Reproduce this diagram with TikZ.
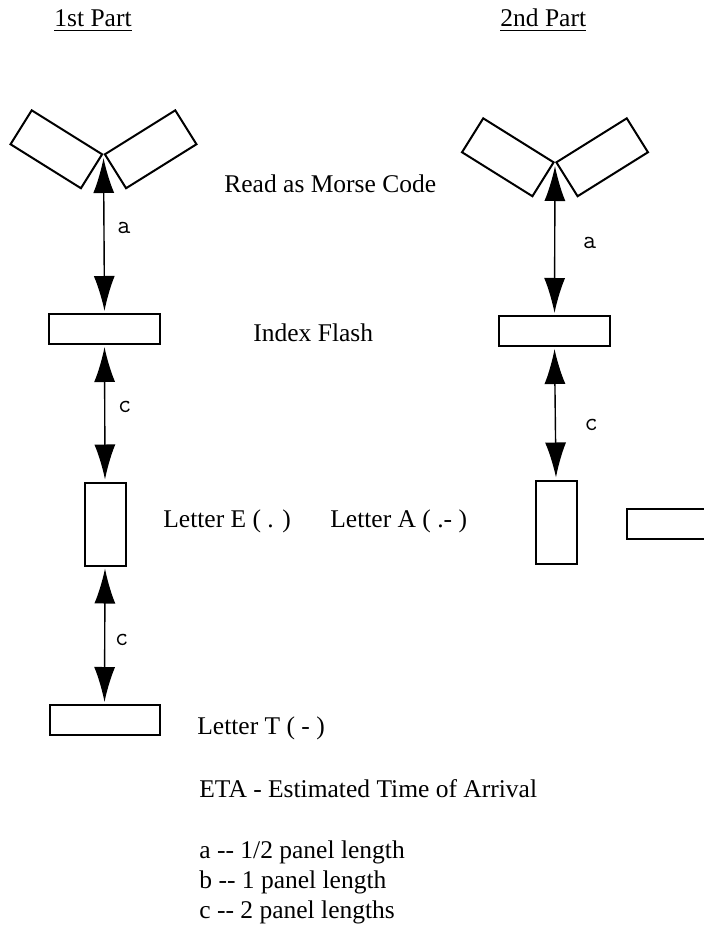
\documentclass[tikz,border=0pt]{standalone}
\usepackage{fontspec}
\setmainfont{Liberation Serif}
\usetikzlibrary{arrows.meta}
\begin{document}
\begin{tikzpicture}[x=0.5pt,y=-0.5pt,
  panel/.style={draw,line width=1pt,minimum width=41.5pt,minimum height=20pt,inner sep=0pt},
  flashbox/.style={draw,line width=1pt,minimum width=55.5pt,minimum height=15pt,inner sep=0pt},
  dotbox/.style={draw,line width=1pt,minimum width=20.5pt,minimum height=41.5pt,inner sep=0pt},
  dashbox/.style={draw,line width=1pt,minimum width=55pt,minimum height=15pt,inner sep=0pt},
  gap/.style={<->,>={Latex[length=17.5pt,width=10.5pt]},line width=0.7pt,shorten >=1pt,shorten <=1pt},
  dist/.style={midway,font=\ttfamily\fontsize{12.75}{15}\selectfont,inner sep=0pt},
  txt/.style={anchor=base west,inner sep=0pt,font=\fontsize{12.75}{15}\selectfont}]
  \useasboundingbox (0,0) rectangle (704,925);
  \clip (0,0) rectangle (704,925);
  \node[txt] (parta) at (54,27) {\underline{1st Part}};
  \node[txt] (partb) at (500,27) {\underline{2nd Part}};
  \coordinate (apexa) at (103.5,154);
  \node[panel,rotate=-32,anchor=north east] (pla) at (apexa) {};
  \node[panel,rotate=32,anchor=north west] (pra) at (apexa) {};
  \node[flashbox] (idxa) at (104.5,329) {};
  \node[dotbox] (ltre) at (105,524) {};
  \node[dashbox] (ltrt) at (104.5,720) {};
  \coordinate (apexb) at (555,162);
  \node[panel,rotate=-32,anchor=north east] (plb) at (apexb) {};
  \node[panel,rotate=32,anchor=north west] (prb) at (apexb) {};
  \node[flashbox] (idxb) at (554.5,331) {};
  \node[dotbox] (ltra) at (556,522) {};
  \node[dashbox,anchor=west] (ltrad) at (626,524) {};
  \draw[gap,shorten <=2pt] (apexa) -- (idxa.north) node[dist,xshift=10pt,yshift=3pt] {a};
  \draw[gap] (idxa.south) -- (ltre.north) node[dist,xshift=10pt,yshift=3pt] {c};
  \draw[gap] (ltre.south) -- (ltrt.north) node[dist,xshift=8.5pt,yshift=-2.5pt] {c};
  \draw[gap,shorten <=2pt] (apexb) -- (idxb.north) node[dist,xshift=17.5pt,yshift=-2pt] {a};
  \draw[gap] (idxb.south) -- (ltra.north) node[dist,xshift=18pt,yshift=-6pt] {c};
  \node[txt] (morse) at (224,192) {Read as Morse Code};
  \node[txt] (flash) at (253,341) {Index Flash};
  \node[txt] (lbe) at (163,527) {Letter E ( . )};
  \node[txt] (lba) at (330,527) {Letter A ( .- )};
  \node[txt] (lbt) at (197,734) {Letter T ( - )};
  \node[txt] (eta) at (199,797) {ETA - Estimated Time of Arrival};
  \node[txt] (keya) at (199,858) {a -{}- 1/2 panel length};
  \node[txt] (keyb) at (199,888) {b -{}- 1 panel length};
  \node[txt] (keyc) at (199,918) {c -{}- 2 panel lengths};
\end{tikzpicture}
\end{document}
